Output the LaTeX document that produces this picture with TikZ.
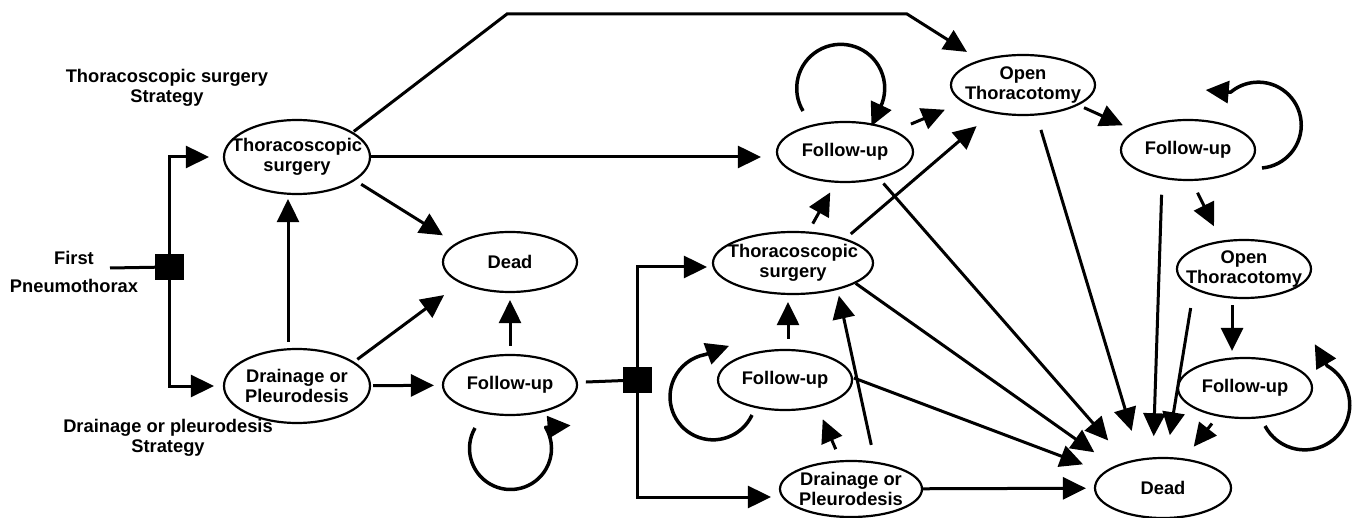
\documentclass[tikz,border=0pt]{standalone}
\usepackage{fontspec}
\setmainfont{Liberation Sans}
\usetikzlibrary{shapes.geometric, arrows.meta}

\tikzset{
    txt/.style={font=\bfseries\fontsize{18.3}{20}\selectfont, align=center, inner sep=0pt},
    state/.style 2 args={draw, ellipse, line width=2.2pt, inner sep=0pt,
        minimum width=#1, minimum height=#2},
    decision/.style={fill=black, draw=black, minimum width=28pt, minimum height=25pt, inner sep=0pt},
    arr/.style={line width=3pt, -{Triangle[length=23pt, width=22pt]}},
    gap/.style 2 args={shorten <=#1pt, shorten >=#2pt},
    selfloop/.style={line width=3.5pt, line join=round, -{Triangle[length=23pt, width=22pt]}}
}

\begin{document}
\begin{tikzpicture}[x=1pt, y=1pt]
    \useasboundingbox (0,0) rectangle (1357,-518);

    % strategy labels
    \node[txt] (tsstrat) at (167,-88) {Thoracoscopic surgery\\Strategy};
    \node[txt] (dpstrat) at (168,-438) {Drainage or pleurodesis\\Strategy};
    \node[txt] (first) at (74,-272) {First\\[8pt]Pneumothorax};

    % decision points
    \node[decision] (sq1) at (169,-267) {};
    \node[decision] (sq2) at (637,-380) {};

    % first strategy
    \node[state={146pt}{74pt}, label={[txt]center:Thoracoscopic\\surgery}] (ts1) at (297,-157) {};
    \node[state={146pt}{74pt}, label={[txt]center:Drainage or\\Pleurodesis}] (dp1) at (297,-386) {};
    \node[state={134pt}{60pt}, label={[txt]center:Dead}] (dead1) at (510,-262) {};
    \node[state={134pt}{60pt}, label={[txt]center:Follow-up}] (fu1) at (510,-385) {};

    % recurrence
    \node[state={160pt}{62pt}, label={[txt]center:Thoracoscopic\\surgery}] (ts2) at (793,-263) {};
    \node[state={134pt}{60pt}, label={[txt]center:Follow-up}] (fu2) at (785,-380) {};
    \node[state={142pt}{56pt}, label={[txt]center:Drainage or\\Pleurodesis}] (dp2) at (851,-489) {};
    \node[state={136pt}{60pt}, label={[txt]center:Follow-up}] (fu3) at (845,-152) {};
    \node[state={144pt}{60pt}, label={[txt]center:Open\\Thoracotomy}] (ot1) at (1023,-85) {};
    \node[state={134pt}{60pt}, label={[txt]center:Follow-up}] (fu4) at (1188,-150) {};
    \node[state={134pt}{58pt}, label={[txt]center:Open\\Thoracotomy}] (ot2) at (1244,-269) {};
    \node[state={134pt}{60pt}, label={[txt]center:Follow-up}] (fu5) at (1245,-388) {};
    \node[state={136pt}{60pt}, label={[txt]center:Dead}] (dead2) at (1163,-488) {};

    \coordinate (entry) at (110,-268);
    \coordinate (bendA) at (507,-14);
    \coordinate (bendB) at (907,-14);

    % left part
    \draw[line width=3pt] (entry) -- (sq1);
    \draw[arr, shorten >=14pt] (sq1) |- (ts1);
    \draw[arr, shorten >=9pt] (sq1) |- (dp1);
    \draw[arr, gap={6}{4}] ([xshift=-9pt]dp1.north) -- ([xshift=-9pt]ts1.south);
    \draw[arr, gap={7}{15}] (ts1.-22) -- (dead1.161);
    \draw[arr, gap={4}{20}] (dp1.23) -- (dead1.203);
    \draw[arr, gap={2}{8}] (dp1) -- (fu1);
    \draw[arr, gap={8}{7}] (fu1) -- (dead1);
    \draw[line width=3pt, shorten <=8pt] (fu1) -- (sq2);
    \draw[arr, shorten >=15pt] (ts1) -- (ts1 -| fu3.west);
    \draw[arr, gap={1}{15}] (ts1.24) -- (bendA) -- (bendB) -- (ot1.150);

    % second decision
    \draw[arr, shorten >=5pt] (sq2) |- ([yshift=-4pt]ts2.west);
    \draw[arr, shorten >=8pt] (sq2) |- ([yshift=-8pt]dp2.west);
    \draw[arr, gap={10}{7}] ([xshift=3pt]fu2.north) -- ([xshift=-5pt]ts2.south);
    \draw[arr, gap={12}{13}] (dp2.110) -- (fu2.-40);
    \draw[arr, gap={17}{6}] (dp2.49) -- (ts2.-31);
    \draw[arr, gap={9}{11}] (ts2.64) -- (fu3.253);
    \draw[arr, gap={17}{19}] (fu3.23) -- (ot1.196);
    \draw[arr, gap={7}{20}] (ts2.25) -- (ot1.222);
    \draw[arr, gap={6}{13}] (ot1.-20) -- (fu4.160);
    \draw[arr, gap={13}{16}] (fu4.-83) -- (ot2.129);
    \draw[arr, gap={6}{6}] ([xshift=-12pt]ot2.south) -- ([xshift=-13pt]fu5.north);

    % into dead
    \draw[arr, gap={9}{15}] (fu5.226) -- (dead2.54);
    \draw[arr, gap={19}{22}] (ot2.202) -- (dead2.84);
    \draw[arr, gap={16}{21}] (fu4.228) -- (dead2.108);
    \draw[arr, gap={15}{29}] (ot1.-66) -- (dead2.128);
    \draw[arr, gap={6}{28}] (fu3.-38) -- (dead2.144);
    \draw[arr, gap={0}{24}] (ts2.-18) -- (dead2.156);
    \draw[arr, gap={1}{22}] (fu2.2) -- (dead2.165);
    \draw[arr, shorten >=8pt] (dp2) -- (dead2);

    % stay in state
    \draw[selfloop] ([shift={(-35,-43)}]fu1.center) arc[start angle=150, end angle=391, radius=41] -- ++(25,2);
    \draw[selfloop] ([shift={(-33,-35)}]fu2.center) arc[start angle=-25, end angle=-260, radius=43] -- ++(23.5,8.6);
    \draw[selfloop] ([shift={(-42,41)}]fu3.center) arc[start angle=211, end angle=-20, radius=44] -- ++(-10.6,-22.7);
    \draw[selfloop] ([shift={(74,-18)}]fu4.center) arc[start angle=-85, end angle=130, radius=43] -- ++(-24.9,2.2);
    \draw[selfloop] ([shift={(20,-38)}]fu5.center) arc[start angle=208, end angle=420, radius=45] -- ++(-12.5,21.7);
\end{tikzpicture}
\end{document}
